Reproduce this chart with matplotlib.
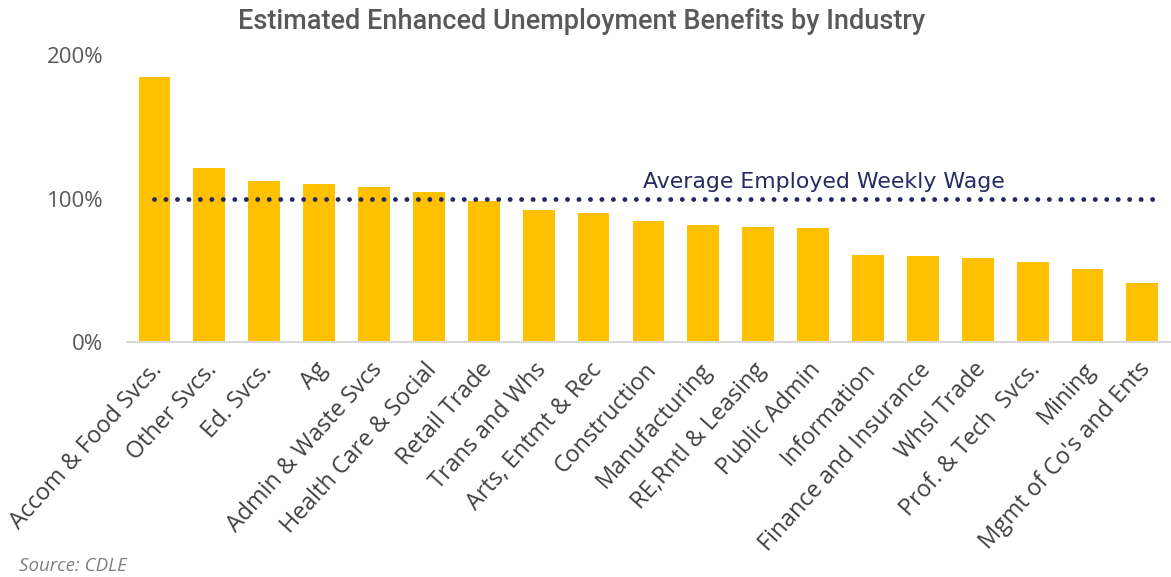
import numpy as np
import matplotlib.pyplot as plt
from matplotlib.ticker import FuncFormatter
from matplotlib.transforms import ScaledTranslation

# ---------------------------------------------------------
# Data: benefits as % of average employed weekly wage
# ---------------------------------------------------------
industries = [
    "Accom & Food Svcs.", "Other Svcs.", "Ed. Svcs.", "Ag",
    "Admin & Waste Svcs", "Health Care & Social", "Retail Trade",
    "Trans and Whs", "Arts, Entmt & Rec", "Construction",
    "Manufacturing", "RE,Rntl & Leasing", "Public Admin",
    "Information", "Finance and Insurance", "Whsl Trade",
    "Prof. & Tech  Svcs.", "Mining", "Mgmt of Co's and Ents",
]
benefit_pct = [
    184.5, 121.2, 112.1, 110.0, 107.9, 104.7, 98.6,
    92.3, 90.0, 84.3, 81.7, 80.3, 79.6,
    60.8, 60.1, 58.5, 56.1, 50.8, 41.3,
]
avg_wage_pct = 100
avg_wage_label = "Average Employed Weekly Wage"
y_ticks = [0, 100, 200]

bar_color = "#FFC000"
navy = "#262A62"
text_gray = "#595959"

fig = plt.figure(figsize=(11.71, 5.77), dpi=100)
ax = fig.add_axes([0.1085, 0.4068, 0.8905, 0.4977])

x = np.arange(len(industries))
ax.bar(x, benefit_pct, width=0.58, color=bar_color, zorder=2)

# dotted reference line at the average wage
ax.plot([x[0], x[-1] + 0.2], [avg_wage_pct, avg_wage_pct], color=navy,
        linewidth=3.5, linestyle=(0, (0.01, 2.35)), dash_capstyle="round",
        zorder=3)
ax.text(12.2, avg_wage_pct + 5, avg_wage_label, color=navy,
        fontsize=15.8, family="DejaVu Sans", ha="center", va="bottom")

ax.set_xlim(-0.5, len(industries) - 0.5)
ax.set_ylim(0, 200)
ax.set_yticks(y_ticks)
ax.yaxis.set_major_formatter(FuncFormatter(lambda v, _: f"{v:.0f}%"))

ax.set_xticks(x)
ax.set_xticklabels(industries, rotation=48, ha="right", va="center",
                   rotation_mode="anchor", family="Open Sans",
                   fontsize=16.8, color="#404040")
ax.tick_params(axis="x", length=0, pad=17)
shift = ScaledTranslation(3 / 72, 0, fig.dpi_scale_trans)
for lbl in ax.get_xticklabels():
    lbl.set_transform(lbl.get_transform() + shift)

ax.tick_params(axis="y", length=0, pad=17, labelsize=16, labelcolor=text_gray)
for lbl in ax.get_yticklabels():
    lbl.set_family("Open Sans")

for side in ["top", "right", "left"]:
    ax.spines[side].set_visible(False)
ax.spines["bottom"].set_color("#D9D9D9")
ax.spines["bottom"].set_linewidth(1.5)

fig.text(0.497, 0.962, "Estimated Enhanced Unemployment Benefits by Industry",
         ha="center", va="center", fontsize=19.5, family="Roboto",
         weight="medium", color=text_gray)
fig.text(0.016, 0.003, "Source: CDLE", ha="left", va="bottom",
         fontsize=13.5, style="italic", family="Open Sans", color="#7F7F7F")

fig.savefig("out.png", dpi=100)
